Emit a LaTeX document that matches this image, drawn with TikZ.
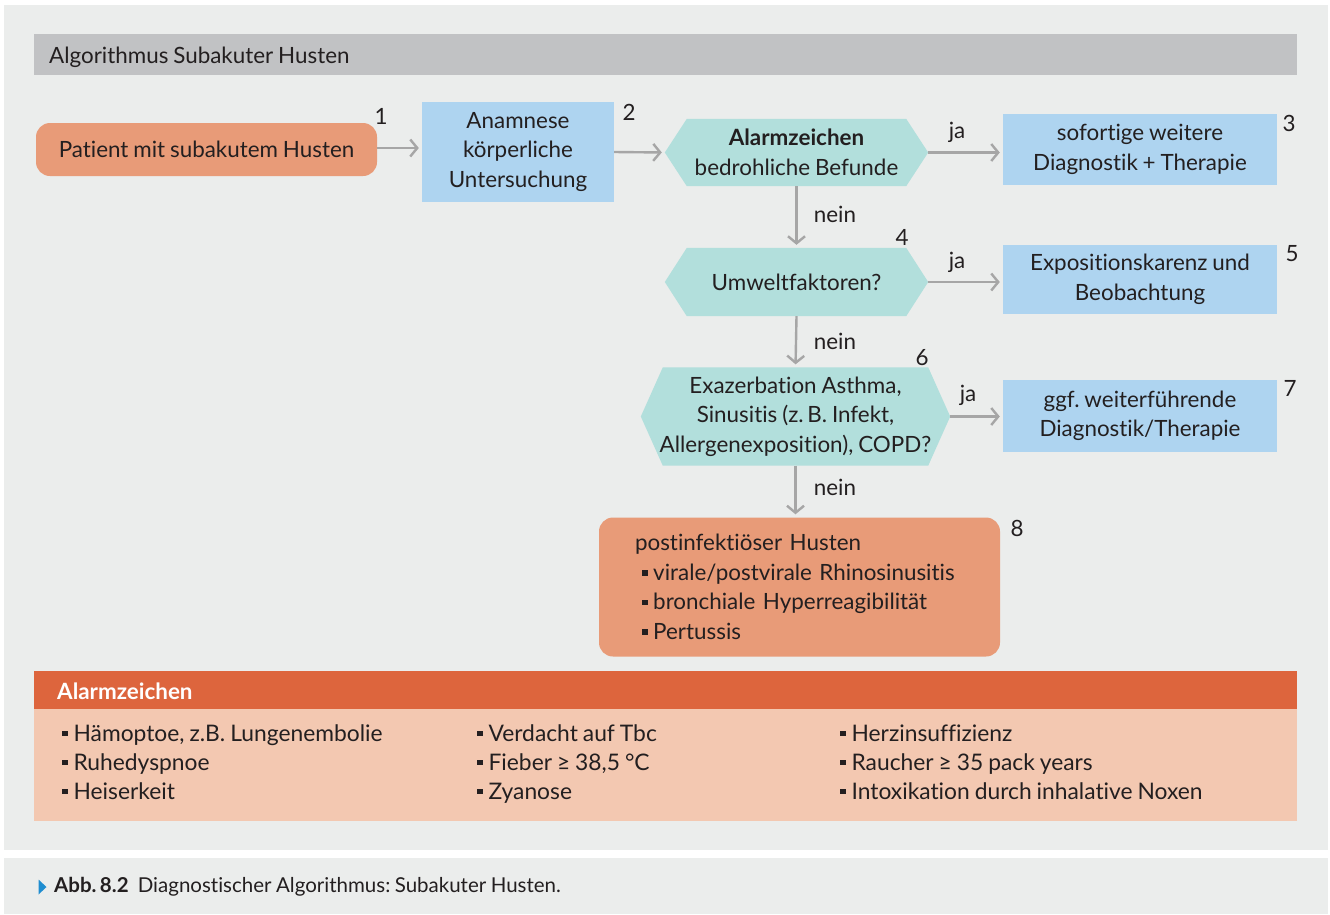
\documentclass[tikz,border=0pt]{standalone}
\usepackage{fontspec}
\setmainfont[Ligatures={NoCommon},WordSpace=0.85]{Lato}
\usetikzlibrary{arrows.meta,backgrounds}
\definecolor{panel}{HTML}{EBEDEC}
\definecolor{titlebar}{HTML}{C1C2C4}
\definecolor{orangefill}{HTML}{E89B78}
\definecolor{bluefill}{HTML}{AED4F0}
\definecolor{tealfill}{HTML}{B2DFDC}
\definecolor{arrowgrey}{HTML}{A6A6A6}
\definecolor{alarmhead}{HTML}{DD653D}
\definecolor{alarmbody}{HTML}{F3C8B1}
\definecolor{textdark}{HTML}{231F20}
\definecolor{capblue}{HTML}{1F8DD0}
\newcommand\mybul{\rule[0.2em]{0.25em}{0.25em}\hspace{0.25em}}
\frenchspacing
\tikzset{
  base/.style={font=\fontsize{22.4}{29.5}\selectfont, text=textdark, inner sep=0pt, align=center},
  orangebox/.style={base, fill=orangefill, rounded corners=14pt},
  bluebox/.style={base, fill=bluefill},
  hexnode/.style={base},
  numlab/.style={base, anchor=center},
  arr/.style={draw=arrowgrey, line width=2.4pt, -{Straight Barb[length=7pt,width=17pt]}, shorten >=3pt},
  colitem/.style={font=\fontsize{22.8}{29.5}\selectfont, text=textdark, inner sep=0pt, anchor=base west},
}
\newcommand\hexfill[2]{%
  \fill[tealfill] (#1.west) -- ([xshift=#2]#1.north west) -- ([xshift=-#2]#1.north east)
    -- (#1.east) -- ([xshift=-#2]#1.south east) -- ([xshift=#2]#1.south west) -- cycle;}
\begin{document}
\begin{tikzpicture}[x=1pt,y=-1pt]
\useasboundingbox (0,0) rectangle (1330,914);
% panels
\begin{scope}[on background layer]
\fill[white] (0,0) rectangle (1330,914);
\fill[panel] (4,5) rectangle (1328,850);
\fill[panel] (4,858) rectangle (1328,914);
\fill[titlebar] (34,34) rectangle (1297,75);
\end{scope}
\node[base, anchor=west] (title) at (49,57) {Algorithmus Subakuter Husten};

% flow nodes
\node[orangebox, minimum width=341pt, minimum height=53pt] (n1) at (206.5,149.5) {Patient mit subakutem Husten};
\node[bluebox, minimum width=192pt, minimum height=100pt] (n2) at (518,152) {Anamnese\\körperliche\\Untersuchung};
\node[hexnode, minimum width=263pt, minimum height=67pt] (h1) at (796.5,152.5) {\textbf{Alarmzeichen}\\bedrohliche Befunde};
\node[bluebox, minimum width=274pt, minimum height=71pt] (n3) at (1140,149.5) {sofortige weitere\\Diagnostik + Therapie};
\node[hexnode, minimum width=263pt, minimum height=68pt] (h2) at (796.5,282) {Umweltfaktoren?};
\node[bluebox, minimum width=274pt, minimum height=69pt] (n5) at (1140,279.5) {Expositionskarenz und\\Beobachtung};
\node[hexnode, minimum width=309pt, minimum height=98pt] (h3) at (795.5,416.5) {Exazerbation Asthma,\\Sinusitis (z.\,B. Infekt,\\Allergenexposition), COPD?};
\node[bluebox, minimum width=274pt, minimum height=72pt] (n7) at (1140,416) {ggf. weiterführende\\Diagnostik/Therapie};
\node[orangebox, minimum width=401pt, minimum height=139pt, text width=329pt, align=left] (n8) at (799.5,587)
  {postinfektiöser Husten\\
   \hspace*{7pt}\mybul virale/postvirale Rhinosinusitis\\
   \hspace*{7pt}\mybul bronchiale Hyperreagibilität\\
   \hspace*{7pt}\mybul Pertussis};

\begin{scope}[on background layer]
  \hexfill{h1}{22pt}
  \hexfill{h2}{22pt}
  \hexfill{h3}{22pt}
\end{scope}

% number labels
\node[numlab] (l1) at (381,116) {1};
\node[numlab] (l2) at (629,112) {2};
\node[numlab] (l3) at (1289,123) {3};
\node[numlab] (l4) at (902,237) {4};
\node[numlab] (l5) at (1292,254) {5};
\node[numlab] (l6) at (922,358) {6};
\node[numlab] (l7) at (1290,388) {7};
\node[numlab] (l8) at (1017,528) {8};

% connectors
\draw[arr] (n1.east |- 0,148) -- (n2.west |- 0,148);
\draw[arr] (n2.east |- 0,152) -- (h1.west);
\draw[arr] (h1.east) -- (h1.east -| n3.west);
\draw[arr] (h2.east) -- (h2.east -| n5.west);
\draw[arr] (h3.east) -- (h3.east -| n7.west);
\draw[arr] (h1.south) -- (h2.north);
\draw[arr] (h2.south) -- (h3.north);
\draw[arr] (h3.south) -- (h3.south |- n8.north);

\node[base] (ja1) at (957,132) {ja};
\node[base] (ja2) at (957,262) {ja};
\node[base] (ja3) at (968,395) {ja};
\node[base] (nein1) at (835,214) {nein};
\node[base] (nein2) at (835,341) {nein};
\node[base] (nein3) at (835,487) {nein};

% Alarmzeichen box
\begin{scope}[on background layer]
\fill[alarmhead] (34,671) rectangle (1297,709);
\fill[alarmbody] (34,709) rectangle (1297,821);
\end{scope}
\node[base, anchor=west, text=white, font=\fontsize{22.4}{29.5}\selectfont\bfseries] (alarmtitle) at (57,691) {Alarmzeichen};
\node[colitem] (a11) at (62,741) {\mybul Hämoptoe, z.B. Lungenembolie};
\node[colitem] (a12) at (62,770) {\mybul Ruhedyspnoe};
\node[colitem] (a13) at (62,799) {\mybul Heiserkeit};
\node[colitem] (a21) at (477,741) {\mybul Verdacht auf Tbc};
\node[colitem] (a22) at (477,770) {\mybul Fieber ≥ 38,5 °C};
\node[colitem] (a23) at (477,799) {\mybul Zyanose};
\node[colitem] (a31) at (840,741) {\mybul Herzinsuffizienz};
\node[colitem] (a32) at (840,770) {\mybul Raucher ≥ 35 pack years};
\node[colitem] (a33) at (840,799) {\mybul Intoxikation durch inhalative Noxen};

% caption
\fill[capblue] (38.5,879.5) -- (46.5,887) -- (38.5,894.5) -- cycle;
\node[anchor=west, inner sep=0pt, text=textdark, font=\fontsize{20.5}{24}\selectfont] (caption) at (54,887)
  {\textbf{Abb.\,8.2}\hspace{0.45em}Diagnostischer Algorithmus: Subakuter Husten.};
\end{tikzpicture}
\end{document}
